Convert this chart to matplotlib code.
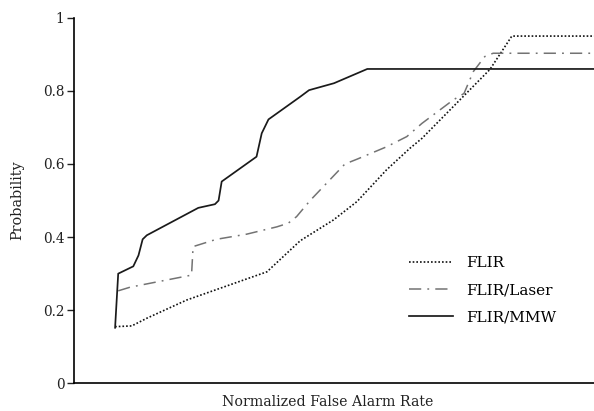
import numpy as np
import matplotlib.pyplot as plt

plt.rcParams['font.family'] = ['DejaVu Serif']

# normalized false alarm rate (arbitrary 0..1 scale) and probabilities
flir_x = [0.079, 0.111, 0.140, 0.217, 0.371, 0.435, 0.499, 0.544, 0.601, 0.646, 0.669, 0.800, 0.842, 1.0]
flir_y = [0.155, 0.157, 0.178, 0.228, 0.305, 0.390, 0.447, 0.497, 0.584, 0.643, 0.670, 0.859, 0.950, 0.950]

laser_x = [0.085, 0.108, 0.226, 0.229, 0.274, 0.332, 0.390, 0.412, 0.428, 0.454, 0.521, 0.544,
           0.601, 0.640, 0.669, 0.729, 0.750, 0.768, 0.790, 0.806, 1.0]
laser_y = [0.253, 0.263, 0.296, 0.374, 0.394, 0.408, 0.428, 0.438, 0.456, 0.500, 0.600, 0.613,
           0.647, 0.675, 0.711, 0.775, 0.793, 0.853, 0.894, 0.903, 0.903]

mmw_x = [0.079, 0.085, 0.114, 0.124, 0.132, 0.140, 0.239, 0.271, 0.278, 0.284, 0.351, 0.361,
         0.374, 0.435, 0.452, 0.500, 0.564, 1.0]
mmw_y = [0.152, 0.300, 0.320, 0.350, 0.394, 0.405, 0.480, 0.490, 0.500, 0.552, 0.620, 0.684,
         0.722, 0.784, 0.802, 0.821, 0.860, 0.860]

yticks = [0, 0.2, 0.4, 0.6, 0.8, 1]
ytick_labels = ['0', '0.2', '0.4', '0.6', '0.8', '1']

fig = plt.figure(figsize=(5.94, 4.11), dpi=100)
ax = fig.add_axes([0.1246, 0.0674, 0.8754, 0.8893])

ax.plot(flir_x, flir_y, color='#111111', lw=1.2, linestyle=(0, (1, 1.2)), label='FLIR')
ax.plot(laser_x, laser_y, color='#737373', lw=1.1, linestyle=(0, (8, 4, 1.2, 4)), label='FLIR/Laser')
ax.plot(mmw_x, mmw_y, color='#1a1a1a', lw=1.25, label='FLIR/MMW')

ax.set_xlim(0, 1)
ax.set_ylim(0, 1)
ax.set_xticks([])
ax.set_yticks(yticks)
ax.set_yticklabels(ytick_labels, fontsize=9.8)
ax.tick_params(axis='y', direction='out', length=5, width=1, pad=2, colors='#222222')

ax.spines['top'].set_visible(False)
ax.spines['right'].set_visible(False)
ax.spines['left'].set_linewidth(1.2)
ax.spines['bottom'].set_linewidth(1.2)

ax.set_xlabel('Normalized False Alarm Rate', fontsize=10.2, color='#222222', va='baseline')
ax.xaxis.set_label_coords(0.487, -0.062)
ax.set_ylabel('Probability', fontsize=10.4, labelpad=13, color='#222222')

ax.legend(loc='center left', bbox_to_anchor=(0.644, 0.255), frameon=False, fontsize=11,
          handlelength=2.9, handletextpad=0.85, labelspacing=0.85, borderpad=0, borderaxespad=0)

fig.savefig('out.png', dpi=100)
